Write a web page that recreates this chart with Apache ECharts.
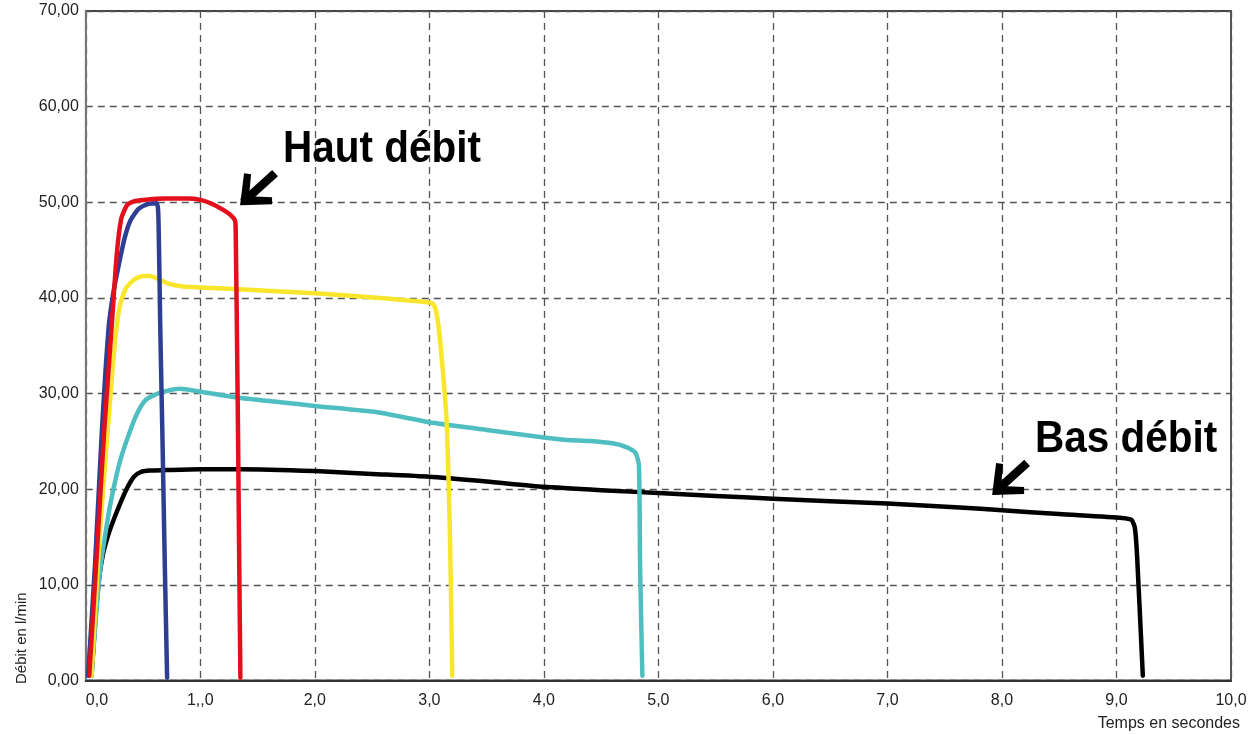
<!DOCTYPE html>
<html>
<head>
<meta charset="utf-8">
<script src="https://cdn.jsdelivr.net/npm/echarts@6/dist/echarts.min.js"></script>
<style>
html,body{margin:0;padding:0;background:#fff;}
#chart{width:1256px;height:734px;}
</style>
</head>
<body>
<div id="chart"></div>
<script>
// ---- Tick labels ----
const xTickLabels = ['0,0','1,,0','2,0','3,0','4,0','5,0','6,0','7,0','8,0','9,0','10,0'];
const yTickLabels = ['0,00','10,00','20,00','30,00','40,00','50,00','60,00','70,00'];

// ---- Series data: [time (s), flow (l/min)] ----
const blueData = [[0.02,0.5],[0.08,12],[0.14,26],[0.2,37],[0.24,40.5],[0.28,43],[0.34,46.3],[0.39,48.1],[0.46,49.3],[0.54,49.8],[0.62,49.9],[0.635,48],[0.65,37],[0.67,25],[0.69,12],[0.71,0.3]];
const redData = [[0.03,0.5],[0.1,14],[0.16,26],[0.22,36],[0.27,44.5],[0.31,48.3],[0.36,49.7],[0.42,50.1],[0.5,50.25],[0.7,50.4],[0.9,50.4],[1.0,50.25],[1.1,49.85],[1.2,49.2],[1.27,48.6],[1.305,48.0],[1.31,46],[1.32,36],[1.33,25],[1.34,12],[1.35,0.3]];
const yellowData = [[0.05,0.5],[0.12,15],[0.2,27.5],[0.26,36],[0.3,39.3],[0.35,41.0],[0.42,41.9],[0.5,42.3],[0.56,42.3],[0.63,42.0],[0.72,41.5],[0.85,41.2],[1.0,41.1],[1.5,40.8],[2.0,40.5],[2.57,40.0],[2.95,39.6],[3.03,39.4],[3.06,38.5],[3.09,36],[3.15,27.2],[3.18,15],[3.2,0.5]];
const tealData = [[0.05,0.5],[0.12,11],[0.2,17.5],[0.25,20.5],[0.3,23],[0.39,26.2],[0.46,28.2],[0.53,29.4],[0.65,30.1],[0.82,30.5],[1.0,30.2],[1.32,29.6],[1.7,29.1],[2.0,28.7],[2.57,28.0],[3.0,27.0],[3.5,26.2],[4.0,25.4],[4.2,25.15],[4.4,25.05],[4.6,24.8],[4.72,24.4],[4.8,23.8],[4.83,22.5],[4.84,12],[4.86,0.5]];
const blackData = [[0.05,0.5],[0.09,7.5],[0.12,11],[0.15,13.2],[0.19,15.0],[0.24,16.7],[0.3,18.5],[0.36,20.1],[0.42,21.3],[0.48,21.8],[0.56,21.95],[0.68,22.0],[1.0,22.1],[1.35,22.1],[2.0,21.9],[2.5,21.6],[3.0,21.3],[3.5,20.8],[4.0,20.25],[4.5,19.9],[5.0,19.6],[5.5,19.3],[6.0,19.0],[7.0,18.5],[7.63,18.1],[8.0,17.8],[8.5,17.4],[9.05,17.0],[9.13,16.8],[9.16,16.0],[9.18,13],[9.23,0.5]];

// ---- Annotations (text, arrow tip in data coords) ----
const annotationTexts = ['Haut débit','Bas débit'];
const annotationTips = [[1.347,49.7],[7.914,19.4]];

const chart = echarts.init(document.getElementById('chart'), null, {renderer:'canvas'});
const lbl = {fontFamily:'Liberation Sans, Arial, sans-serif', fontSize:16, color:'#222'};
const dashed = {show:true, lineStyle:{color:'#555', width:1.3, type:[7,5]}};

function lineSeries(name, data, color, z){
  return {name, type:'line', data, showSymbol:false, symbol:'none', z,
    smooth:0.2,
    lineStyle:{color, width:4.5, join:'round', cap:'round'}, animation:false};
}

chart.setOption({
  animation:false,
  backgroundColor:'#fff',
  grid:{left:85.8, right:25, top:11, bottom:53.5, show:true, borderColor:'#444', borderWidth:1.8, containLabel:false},
  xAxis:{type:'value', min:0, max:10, interval:1,
    axisLine:{show:true, lineStyle:{color:'#333', width:2}},
    axisTick:{show:false},
    axisLabel:Object.assign({margin:12, alignMinLabel:'left', formatter:v=>xTickLabels[Math.round(v)]}, lbl),
    splitLine:dashed},
  yAxis:{type:'value', min:0, max:70, interval:10,
    axisLine:{show:true, lineStyle:{color:'#777', width:2}},
    axisTick:{show:false},
    axisLabel:Object.assign({margin:7, formatter:v=>yTickLabels[Math.round(v/10)]}, lbl),
    splitLine:dashed},
  series:[
    lineSeries('noir', blackData, '#000000', 1),
    lineSeries('turquoise', tealData, '#4fbec0', 2),
    lineSeries('jaune', yellowData, '#f7e62b', 3),
    lineSeries('bleu', blueData, '#2e3f93', 4),
    lineSeries('rouge', redData, '#e30f1d', 5)
  ]
});

const graphics = [];
// axis names
graphics.push({type:'text', x:1240, y:724, z:10, style:{text:'Temps en secondes', fill:'#222', font:'16px "Liberation Sans", Arial, sans-serif', align:'right', verticalAlign:'middle'}});
graphics.push({type:'text', x:22, y:684, rotation:Math.PI/2, z:10, style:{text:'Débit en l/min', fill:'#222', font:'15px "Liberation Sans", Arial, sans-serif', align:'left', verticalAlign:'middle'}});

annotationTips.forEach((tip, i) => {
  const p = chart.convertToPixel({gridIndex:0}, tip);
  const tx = p[0], ty = p[1];
  const arrowStyle = {stroke:'#000', lineWidth:7, fill:null, lineCap:'butt', lineJoin:'miter'};
  graphics.push({type:'line', z:20, shape:{x1:tx+3, y1:ty-3, x2:tx+35, y2:ty-32}, style:Object.assign({}, arrowStyle, {lineWidth:8.5})});
  graphics.push({type:'polygon', z:20, shape:{points:[[tx, ty],[tx+4, ty-32],[tx+11, ty-31],[tx+9, ty-9],[tx+32, ty-8],[tx+32, ty-1]]}, style:{fill:'#000'}});
  graphics.push({type:'text', z:20, x:tx+43, y:ty-55, scaleX:0.92,
    style:{text:annotationTexts[i], fill:'#000', font:'bold 44px "Liberation Sans", Arial, sans-serif', align:'left', verticalAlign:'middle'}});
});
chart.setOption({graphic:graphics});
</script>
</body>
</html>
